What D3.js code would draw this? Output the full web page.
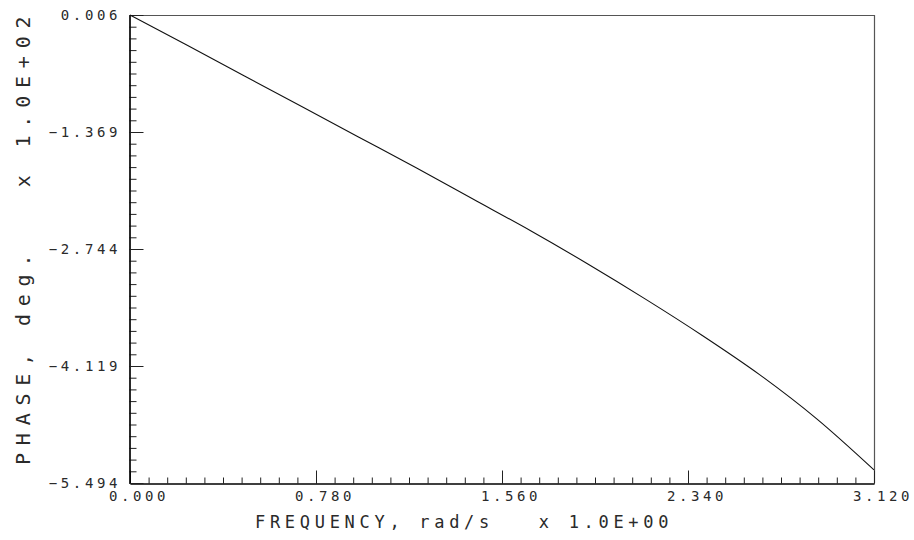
<!DOCTYPE html>
<html>

<head>
    <title>Phase plot</title>
    <script src="https://d3js.org/d3.v7.min.js"></script>
    <style>
        body { margin: 0; background: #fff; }
        .lbl {
            font-family: "DejaVu Sans Mono", monospace;
            fill: #2a2a2a;
            white-space: pre;
        }
    </style>
</head>

<body>
    <script>
        // phase values are in units of 1.0E+02 deg
        var freq = [0.00, 0.24, 0.48, 0.72, 0.96, 1.20, 1.44, 1.68, 1.92, 2.16, 2.40, 2.64, 2.88, 3.12];
        var phase = [0.006, -0.35, -0.71, -1.07, -1.43, -1.79, -2.16, -2.53, -2.92, -3.33, -3.76, -4.22, -4.74, -5.34];

        var xTicks = [0.000, 0.780, 1.560, 2.340, 3.120];
        var yTicks = [0.006, -1.369, -2.744, -4.119, -5.494];

        var xTitle = "FREQUENCY, rad/s   x 1.0E+00";
        var yTitle = "PHASE, deg.   x 1.0E+02";

        var w = 914, h = 540;
        var pLeft = 130, pRight = 874, pTop = 15, pBottom = 483;

        var x = d3.scaleLinear().domain([0, 3.12]).range([pLeft, pRight]);
        var y = d3.scaleLinear().domain([-5.494, 0.006]).range([pBottom, pTop]);

        var fmt = function (d) { return d.toFixed(3).replace("-", "\u2212"); };

        var svg = d3.select("body").append("svg")
            .attr("width", w)
            .attr("height", h);

        // frame: top and right
        svg.append("path")
            .attr("d", "M" + pLeft + "," + (pTop + 0.5) + "H" + (pRight + 0.5) + "V" + pBottom)
            .attr("fill", "none")
            .attr("stroke", "#555")
            .attr("stroke-width", 1.2);

        // minor ticks, 10 steps between majors
        var xMinor = d3.range(0, 41).map(function (i) { return i * 0.078; });
        var yMinor = d3.range(0, 41).map(function (i) { return -5.494 + i * 0.1375; });

        // x axis (ticks point up into plot)
        svg.append("g").attr("transform", "translate(0," + (pBottom + 0.5) + ")")
            .call(d3.axisTop(x).tickValues(xMinor).tickSize(6).tickFormat("").tickSizeOuter(0));
        svg.append("g").attr("transform", "translate(0," + (pBottom + 0.5) + ")")
            .call(d3.axisTop(x).tickValues(xTicks).tickSize(13).tickFormat("").tickSizeOuter(0));

        // y axis (ticks point right into plot)
        svg.append("g").attr("transform", "translate(" + (pLeft - 0.5) + ",0)")
            .call(d3.axisRight(y).tickValues(yMinor).tickSize(7).tickFormat("").tickSizeOuter(0));
        svg.append("g").attr("transform", "translate(" + (pLeft - 0.5) + ",0)")
            .call(d3.axisRight(y).tickValues(yTicks).tickSize(14).tickFormat("").tickSizeOuter(0));

        svg.selectAll(".domain").attr("stroke", "#000").attr("stroke-width", 1.2);
        svg.selectAll(".tick line").attr("stroke", "#222");

        // tick labels
        svg.selectAll(".xl").data(xTicks).enter().append("text")
            .attr("class", "lbl")
            .attr("x", function (d) { return x(d) + 9; })
            .attr("y", pBottom + 18)
            .attr("text-anchor", "middle")
            .style("font-size", "14px")
            .style("letter-spacing", "3.6px")
            .text(fmt);

        svg.selectAll(".yl").data(yTicks).enter().append("text")
            .attr("class", "lbl")
            .attr("x", 121)
            .attr("y", function (d) { return y(d) + 5; })
            .attr("text-anchor", "end")
            .style("font-size", "14px")
            .style("letter-spacing", "3.6px")
            .text(fmt);

        // axis titles
        svg.append("text")
            .attr("class", "lbl")
            .attr("x", 255)
            .attr("y", 528)
            .style("font-size", "17px")
            .style("letter-spacing", "4.7px")
            .text(xTitle);

        svg.append("text")
            .attr("class", "lbl")
            .attr("transform", "translate(30,465) rotate(-90)")
            .style("font-size", "20px")
            .style("letter-spacing", "7.8px")
            .text(yTitle);

        // the curve
        var pts = freq.map(function (f, i) { return { f: f, p: phase[i] }; });
        var line = d3.line()
            .x(function (d) { return x(d.f); })
            .y(function (d) { return y(d.p); })
            .curve(d3.curveMonotoneX);

        svg.append("path")
            .datum(pts)
            .attr("fill", "none")
            .attr("stroke", "#111")
            .attr("stroke-width", 1.1)
            .attr("d", line);
    </script>
</body>

</html>
